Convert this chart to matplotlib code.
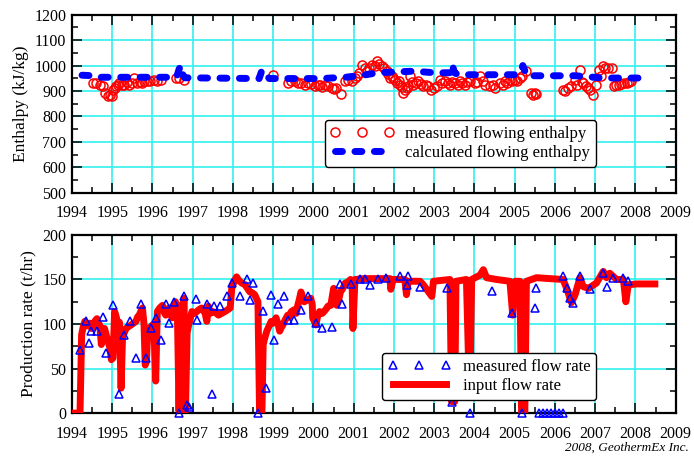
import numpy as np
import matplotlib
matplotlib.use('Agg')
import matplotlib.pyplot as plt
from matplotlib.ticker import MultipleLocator

plt.rcParams['font.family'] = ['Liberation Serif', 'DejaVu Serif']

# --- enthalpy (kJ/kg) ---
calc_year = [1994.25, 1994.55, 1994.7, 1996.6, 1996.66, 1996.7, 1996.74, 1996.8, 1998.65, 1998.72,
             1998.78, 1998.9, 2000.2, 2000.8, 2001.3, 2001.6, 2002.5, 2003.06, 2003.4, 2003.45,
             2003.5, 2003.6, 2005.04, 2005.15, 2005.2, 2005.3, 2006.5, 2007.19, 2008.35]
calc_h = [962, 960, 954, 954, 985, 1000, 968, 952, 949, 982,
          975, 949, 949, 954, 964, 972, 978, 971, 972, 1004,
          972, 964, 964, 975, 1000, 960, 960, 951, 951]

meas_year = [1994.53, 1994.6, 1994.7, 1994.78, 1994.83, 1994.9, 1994.95, 1995.0, 1995.03, 1995.08,
             1995.1, 1995.15, 1995.18, 1995.25, 1995.3, 1995.36, 1995.42, 1995.48, 1995.55, 1995.62,
             1995.68, 1995.75, 1995.8, 1995.87, 1995.95, 1996.03, 1996.12, 1996.2, 1996.58, 1996.65,
             1996.78, 1998.99, 1999.37, 1999.45, 1999.53, 1999.62, 1999.7, 1999.78, 1999.87, 1999.95,
             2000.03, 2000.1, 2000.15, 2000.22, 2000.28, 2000.36, 2000.45, 2000.52, 2000.57, 2000.68,
             2000.78, 2000.86, 2000.95, 2001.03, 2001.08, 2001.12, 2001.2, 2001.27, 2001.33, 2001.38,
             2001.45, 2001.52, 2001.58, 2001.64, 2001.7, 2001.76, 2001.82, 2001.86, 2001.9, 2001.95,
             2001.98, 2002.03, 2002.07, 2002.12, 2002.15, 2002.2, 2002.23, 2002.27, 2002.32, 2002.36,
             2002.4, 2002.44, 2002.48, 2002.54, 2002.6, 2002.66, 2002.73, 2002.79, 2002.85, 2002.93,
             2003.0, 2003.06, 2003.14, 2003.2, 2003.26, 2003.33, 2003.39, 2003.45, 2003.51, 2003.58,
             2003.64, 2003.7, 2003.76, 2003.82, 2003.88, 2004.01, 2004.07, 2004.13, 2004.2, 2004.26,
             2004.38, 2004.45, 2004.5, 2004.63, 2004.7, 2004.75, 2004.82, 2004.88, 2004.94, 2005.0,
             2005.06, 2005.12, 2005.18, 2005.29, 2005.41, 2005.45, 2005.5, 2005.53, 2006.2, 2006.26,
             2006.32, 2006.41, 2006.49, 2006.55, 2006.61, 2006.66, 2006.7, 2006.78, 2006.82, 2006.86,
             2006.94, 2007.02, 2007.1, 2007.15, 2007.19, 2007.25, 2007.31, 2007.42, 2007.46, 2007.52,
             2007.59, 2007.65, 2007.71, 2007.78, 2007.84, 2007.9]
meas_h = [932, 932, 925, 918, 892, 879, 885, 879, 905, 912,
          918, 925, 930, 925, 925, 935, 925, 930, 951, 932,
          935, 932, 940, 938, 938, 945, 938, 942, 951, 951,
          945, 964, 932, 938, 938, 930, 932, 925, 932, 926,
          918, 922, 925, 915, 925, 918, 912, 908, 912, 889,
          938, 945, 938, 951, 960, 971, 1004, 990, 978, 990,
          1004, 1000, 1017, 1008, 1000, 990, 978, 965, 951, 958,
          950, 945, 932, 940, 925, 915, 892, 905, 912, 918,
          958, 935, 925, 930, 938, 928, 918, 925, 918, 905,
          912, 918, 945, 930, 938, 932, 925, 935, 932, 925,
          938, 930, 925, 935, 940, 930, 935, 958, 940, 925,
          918, 925, 912, 932, 925, 938, 930, 945, 938, 945,
          940, 951, 958, 978, 892, 885, 892, 888, 905, 900,
          912, 918, 945, 925, 984, 935, 932, 920, 912, 905,
          885, 925, 984, 960, 997, 990, 991, 991, 918, 922,
          925, 928, 932, 930, 935, 938]

# --- flow rate (t/hr) ---
flow_year = [1994.0, 1994.2, 1994.24, 1994.28, 1994.32, 1994.37, 1994.44, 1994.49, 1994.53, 1994.58,
             1994.62, 1994.66, 1994.69, 1994.73, 1994.77, 1994.81, 1994.86, 1994.9, 1994.95, 1994.98,
             1995.02, 1995.06, 1995.1, 1995.14, 1995.18, 1995.22, 1995.26, 1995.3, 1995.34, 1995.4,
             1995.47, 1995.53, 1995.59, 1995.63, 1995.67, 1995.71, 1995.75, 1995.79, 1995.82, 1995.85,
             1995.88, 1995.92, 1996.0, 1996.04, 1996.08, 1996.12, 1996.18, 1996.25, 1996.29, 1996.33,
             1996.37, 1996.41, 1996.45, 1996.49, 1996.53, 1996.57, 1996.62, 1996.66, 1996.7, 1996.74,
             1996.78, 1996.82, 1996.86, 1996.9, 1996.98, 1997.05, 1997.15, 1997.22, 1997.31, 1997.35,
             1997.39, 1997.44, 1997.48, 1997.56, 1997.64, 1997.72, 1997.8, 1997.87, 1997.93, 1997.97,
             1998.03, 1998.09, 1998.13, 1998.17, 1998.22, 1998.3, 1998.36, 1998.42, 1998.48, 1998.54,
             1998.62, 1998.66, 1998.72, 1998.75, 1998.8, 1998.84, 1998.9, 1998.95, 1999.0, 1999.07,
             1999.12, 1999.16, 1999.2, 1999.24, 1999.3, 1999.36, 1999.4, 1999.45, 1999.52, 1999.57,
             1999.61, 1999.65, 1999.69, 1999.73, 1999.77, 1999.85, 1999.93, 1999.97, 1999.98, 2000.06,
             2000.1, 2000.15, 2000.22, 2000.3, 2000.36, 2000.43, 2000.5, 2000.54, 2000.58, 2000.63,
             2000.67, 2000.73, 2000.79, 2000.85, 2000.92, 2000.96, 2000.98, 2001.03, 2001.25, 2001.6,
             2001.9, 2001.92, 2001.98, 2002.27, 2002.31, 2002.35, 2002.65, 2002.73, 2002.94, 2002.98,
             2003.39, 2003.43, 2003.51, 2003.54, 2003.8, 2003.85, 2003.9, 2003.93, 2004.14, 2004.22,
             2004.3, 2004.55, 2004.88, 2004.95, 2005.01, 2005.13, 2005.17, 2005.25, 2005.29, 2005.54,
             2006.2, 2006.29, 2006.41, 2006.5, 2006.62, 2006.7, 2006.83, 2007.03, 2007.2, 2007.28,
             2007.36, 2007.53, 2007.7, 2007.76, 2007.82, 2008.03, 2008.48]
flow_rate = [0, 0, 88, 97, 103, 98, 101, 95, 97, 104,
             106, 99, 99, 77, 90, 95, 86, 80, 72, 60,
             62, 114, 108, 99, 102, 28, 92, 90, 95, 97,
             99, 101, 103, 108, 110, 114, 118, 100, 54, 58,
             88, 95, 99, 92, 36, 114, 118, 121, 113, 110,
             116, 118, 112, 107, 120, 125, 110, 2, 121, 2,
             129, 2, 90, 99, 114, 112, 116, 118, 112, 103,
             120, 112, 114, 113, 110, 112, 114, 116, 118, 140,
             148, 153, 150, 148, 146, 144, 140, 136, 135, 133,
             125, 2, 2, 77, 86, 92, 98, 103, 101, 107,
             100, 92, 96, 99, 105, 110, 108, 114, 116, 112,
             121, 128, 136, 130, 125, 127, 129, 122, 107, 99,
             108, 114, 112, 116, 120, 121, 140, 130, 121, 128,
             136, 140, 146, 147, 150, 148, 95, 150, 151, 151,
             151, 139, 150, 150, 133, 148, 148, 144, 131, 148,
             150, 13, 13, 148, 150, 62, 62, 150, 155, 161,
             152, 150, 148, 110, 148, 148, 0, 0, 148, 152,
             150, 140, 124, 133, 152, 142, 140, 146, 159, 152,
             157, 150, 150, 125, 144, 145, 145]

tri_year = [1994.2, 1994.36, 1994.43, 1994.48, 1994.61, 1994.76, 1994.85, 1995.02, 1995.18, 1995.3,
            1995.43, 1995.59, 1995.71, 1995.84, 1995.96, 1996.08, 1996.2, 1996.33, 1996.41, 1996.53,
            1996.66, 1996.78, 1996.86, 1996.9, 1997.07, 1997.11, 1997.35, 1997.48, 1997.52, 1997.69,
            1997.85, 1997.97, 1998.17, 1998.34, 1998.5, 1998.42, 1998.62, 1998.75, 1998.83, 1998.95,
            1999.03, 1999.11, 1999.28, 1999.36, 1999.52, 1999.69, 1999.86, 2000.07, 2000.2, 2000.47,
            2000.67, 2000.7, 2000.92, 2001.16, 2001.28, 2001.4, 2001.6, 2001.8, 2002.15, 2002.36,
            2002.32, 2002.65, 2003.31, 2003.43, 2003.89, 2004.43, 2004.92, 2005.17, 2005.5, 2005.54,
            2005.6, 2005.7, 2005.8, 2005.9, 2006.0, 2006.1, 2006.2, 2006.2, 2006.29, 2006.37,
            2006.45, 2006.62, 2006.87, 2007.2, 2007.28, 2007.45, 2007.7, 2007.82]
tri_rate = [71, 103, 79, 92, 92, 108, 67, 121, 22, 88,
            103, 62, 123, 62, 95, 107, 82, 123, 101, 125,
            0, 131, 9, 7, 128, 105, 123, 22, 120, 120,
            131, 146, 131, 151, 146, 127, 0, 115, 28, 133,
            82, 123, 131, 105, 105, 116, 131, 101, 95, 97,
            145, 123, 145, 150, 151, 144, 150, 152, 154, 154,
            144, 142, 140, 13, 0, 137, 112, 0, 118, 140,
            0, 0, 0, 0, 0, 0, 0, 154, 140, 129,
            124, 154, 139, 157, 142, 152, 152, 148]

years = np.arange(1994, 2010)

fig = plt.figure(figsize=(6.94, 4.58), dpi=100)
ax1 = fig.add_axes([0.1037, 0.579, 0.870, 0.389])
ax2 = fig.add_axes([0.1037, 0.098, 0.870, 0.389])

grid_c = '#33f0f0'

def style(ax):
    ax.set_xlim(1994, 2009)
    ax.set_xticks(years)
    ax.xaxis.set_minor_locator(MultipleLocator(0.5))
    ax.grid(True, which='major', color=grid_c, lw=1.2, zorder=0)
    ax.tick_params(which='both', direction='in', top=True, right=True, labelsize=11.5, width=1.1)
    ax.tick_params(which='major', length=7, pad=4)
    ax.tick_params(axis='x', which='major', pad=9)
    ax.tick_params(which='minor', length=4)
    for s in ax.spines.values():
        s.set_linewidth(1.6)
    ax.set_axisbelow(True)

# top
ax1.plot(meas_year, meas_h, 'o', mfc='none', mec='red', ms=6.5, mew=1.1, zorder=3,
         label='measured flowing enthalpy')
ax1.plot(calc_year, calc_h, color='blue', lw=5, dashes=(1.0, 1.8), solid_capstyle='round',
         dash_capstyle='round', zorder=4, label='calculated flowing enthalpy')
ax1.set_ylim(500, 1200)
ax1.yaxis.set_major_locator(MultipleLocator(100))
ax1.yaxis.set_minor_locator(MultipleLocator(50))
ax1.set_ylabel('Enthalpy (kJ/kg)', fontsize=12.5)
style(ax1)
leg1 = ax1.legend(loc='lower right', bbox_to_anchor=(0.868, 0.146), numpoints=3, fontsize=12,
                  handlelength=3.8, handletextpad=0.7, labelspacing=0.2, borderpad=0.35,
                  borderaxespad=0, fancybox=True, framealpha=1, edgecolor='black')
leg1.get_frame().set_linewidth(1.0)

# bottom
ax2.plot(flow_year, flow_rate, color='red', lw=5, solid_joinstyle='round', zorder=3,
         label='input flow rate')
ax2.plot(tri_year, tri_rate, '^', mfc='none', mec='blue', ms=6, mew=1.1, zorder=4,
         clip_on=False, label='measured flow rate')
ax2.set_ylim(0, 200)
ax2.yaxis.set_major_locator(MultipleLocator(50))
ax2.yaxis.set_minor_locator(MultipleLocator(25))
ax2.set_ylabel('Production rate (t/hr)', fontsize=12.5)
style(ax2)
h, l = ax2.get_legend_handles_labels()
leg2 = ax2.legend(h[::-1], l[::-1], loc='lower right', bbox_to_anchor=(0.868, 0.073), numpoints=3,
                  fontsize=12, handlelength=3.8, handletextpad=0.7, labelspacing=0.2,
                  borderpad=0.35, borderaxespad=0, fancybox=True, framealpha=1, edgecolor='black')
leg2.get_frame().set_linewidth(1.0)

fig.text(0.993, 0.01, '2008, GeothermEx Inc.', ha='right', va='bottom', fontsize=9.5, style='italic')

fig.savefig('out.png', dpi=100)
